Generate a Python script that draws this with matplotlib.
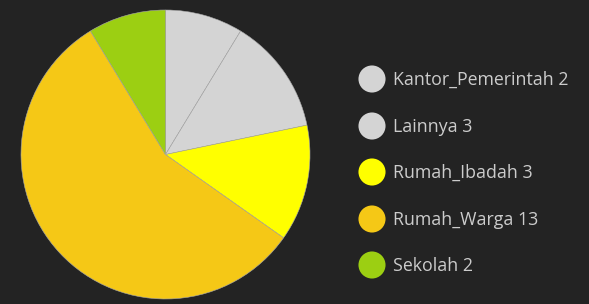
import matplotlib
matplotlib.use("Agg")
import matplotlib.pyplot as plt

categories = ["Kantor_Pemerintah", "Lainnya", "Rumah_Ibadah", "Rumah_Warga", "Sekolah"]
values = [2, 3, 3, 13, 2]
colors = ["#d4d4d4", "#d4d4d4", "#ffff00", "#f5c816", "#9ccf12"]

bg = "#232323"
W, H = 589, 304
fig = plt.figure(figsize=(W / 100, H / 100), dpi=100, facecolor=bg)

# pie axes: center (165.5, 154.5), radius 144.5 px
cx, cy, r = 165.5, 154.5, 144.5
ax = fig.add_axes([(cx - r) / W, (H - cy - r) / H, 2 * r / W, 2 * r / H])
ax.set_facecolor(bg)
ax.pie(values, colors=colors, startangle=90, counterclock=False, radius=1,
       wedgeprops=dict(edgecolor="#a8a8a8", linewidth=0.4))
ax.set_xlim(-1, 1)
ax.set_ylim(-1, 1)
ax.set_aspect("auto")
ax.axis("off")

# legend drawn in pixel coordinates
lax = fig.add_axes([0, 0, 1, 1])
lax.set_xlim(0, W)
lax.set_ylim(H, 0)
lax.axis("off")
ys = [79, 126, 172, 219, 265]
for cat, val, col, y in zip(categories, values, colors, ys):
    lax.scatter([372], [y], s=380, color=col, edgecolors="none")
    lax.text(393, y + 1, f"{cat} {val}", color="#cccccc", fontsize=12.8,
             va="center", ha="left", family="Open Sans")

fig.savefig("out.png", dpi=100, facecolor=bg)
